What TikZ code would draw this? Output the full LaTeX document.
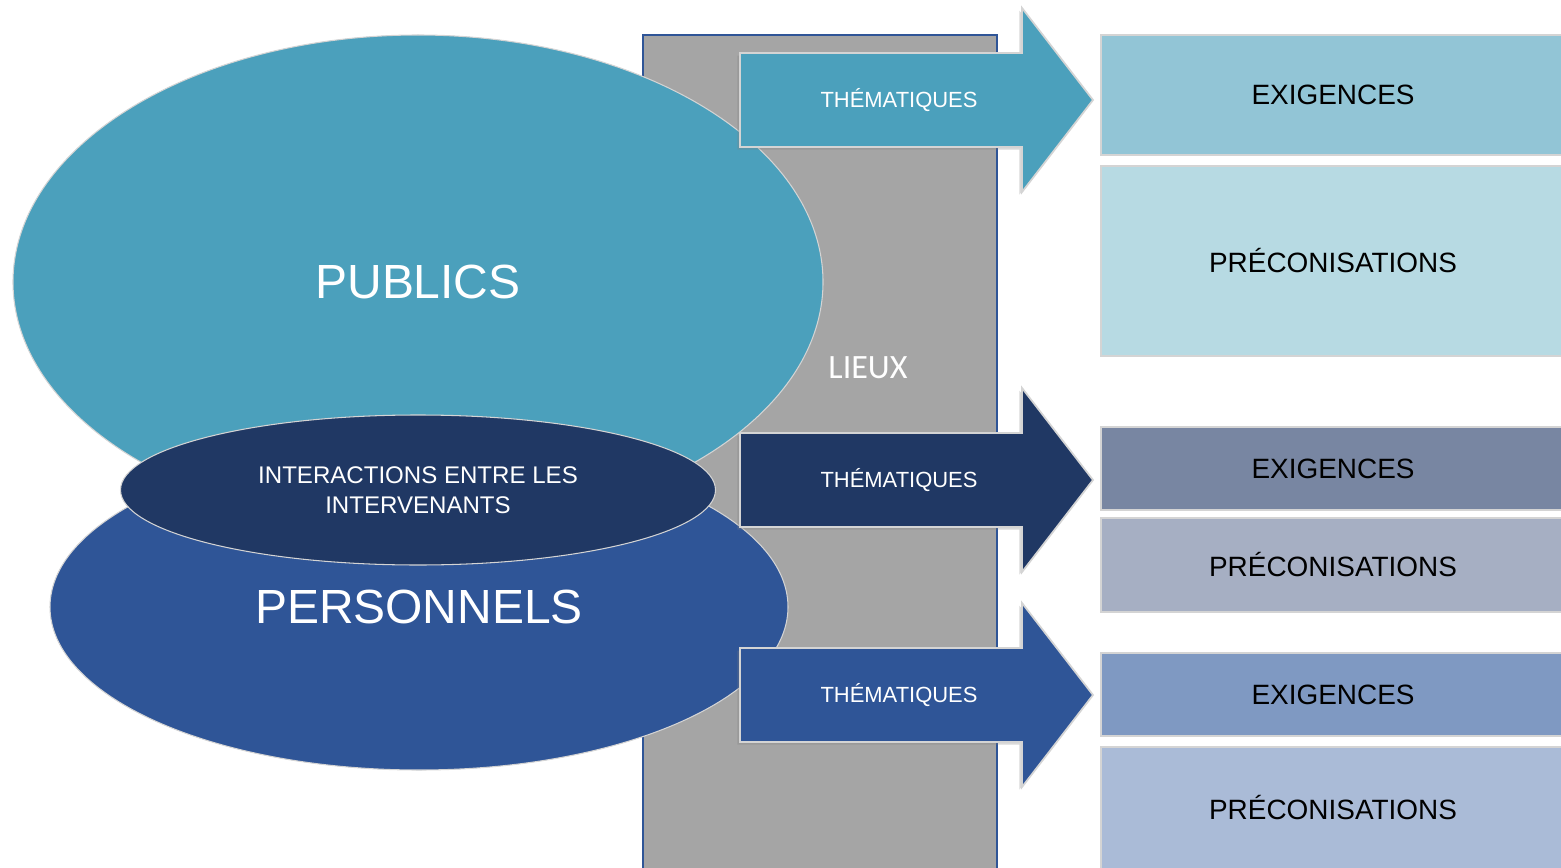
\documentclass[tikz,border=0pt]{standalone}
\usepackage{fontspec}
\setmainfont{Liberation Sans}
\newfontfamily\lieuxfont{Carlito}
\usetikzlibrary{shapes.geometric,shadows}

\definecolor{publicsbleu}{HTML}{4BA0BC}
\definecolor{interbleu}{HTML}{203864}
\definecolor{persbleu}{HTML}{2F5597}
\definecolor{lieuxgris}{HTML}{A5A5A5}
\definecolor{bordgris}{HTML}{D4D4D4}
\definecolor{exigA}{HTML}{92C5D6}
\definecolor{precA}{HTML}{B7DAE3}
\definecolor{exigB}{HTML}{7886A2}
\definecolor{precB}{HTML}{A6AFC3}
\definecolor{exigC}{HTML}{7F99C2}
\definecolor{precC}{HTML}{AABBD7}

\def\px{0.02cm}

\tikzset{
  bulle/.style={ellipse, draw=bordgris, line width=0.6pt, inner sep=0pt, text=white},
  fleche/.style={draw=bordgris, line width=1pt,
    drop shadow={shadow xshift=-1.5pt, shadow yshift=-1.5pt, opacity=0.3}},
  theme/.style={text=white, font=\fontsize{12.5}{15}\selectfont},
  case/.style={rectangle, draw=bordgris, line width=1.1pt, inner sep=0pt,
    minimum width=464*\px, font=\fontsize{15.9}{19}\selectfont},
}

\begin{document}
\begin{tikzpicture}[x=\px, y=-\px]

\clip (0,0) rectangle (1561,868);

\def\xbl{740}; % arrow body left
\def\xbr{1022}; % arrow body right
\def\xtip{1093}; % arrow tip
\def\hb{47}; % half body
\def\hh{92}; % half head

\def\ya{100}; % arrow 1
\def\yb{480}; % arrow 2
\def\yc{695}; % arrow 3

% lieux
\filldraw[fill=lieuxgris, draw=persbleu, line width=0.04cm] (643,35) rectangle (997,880);
\node[text=white, font=\lieuxfont\fontsize{19.4}{23}\selectfont] (lieux) at (868,368) {LIEUX};

% ellipses
\node[bulle, fill=publicsbleu, minimum width=810*\px, minimum height=494*\px,
  font=\fontsize{27.3}{32}\selectfont] (publics) at (418,282) {PUBLICS};
\node[bulle, fill=persbleu, minimum width=738*\px, minimum height=326*\px,
  font=\fontsize{27.3}{32}\selectfont] (personnels) at (419,607) {PERSONNELS};
\node[bulle, fill=interbleu, minimum width=595*\px, minimum height=150*\px, align=center,
  font=\fontsize{13.7}{17.1}\selectfont] (interactions) at (418,490)
  {INTERACTIONS ENTRE LES\\INTERVENANTS};

% arrows
\filldraw[fleche, fill=publicsbleu] (\xbl,\ya-\hb) -- (\xbr,\ya-\hb) -- (\xbr,\ya-\hh)
  -- (\xtip,\ya) -- (\xbr,\ya+\hh) -- (\xbr,\ya+\hb) -- (\xbl,\ya+\hb) -- cycle;
\node[theme] (themA) at (899,\ya) {THÉMATIQUES};

\filldraw[fleche, fill=interbleu] (\xbl,\yb-\hb) -- (\xbr,\yb-\hb) -- (\xbr,\yb-\hh)
  -- (\xtip,\yb) -- (\xbr,\yb+\hh) -- (\xbr,\yb+\hb) -- (\xbl,\yb+\hb) -- cycle;
\node[theme] (themB) at (899,\yb) {THÉMATIQUES};

\filldraw[fleche, fill=persbleu] (\xbl,\yc-\hb) -- (\xbr,\yc-\hb) -- (\xbr,\yc-\hh)
  -- (\xtip,\yc) -- (\xbr,\yc+\hh) -- (\xbr,\yc+\hb) -- (\xbl,\yc+\hb) -- cycle;
\node[theme] (themC) at (899,\yc) {THÉMATIQUES};

% boxes
\node[case, fill=exigA, minimum height=120*\px] (exigA) at (1333,95) {EXIGENCES};
\node[case, fill=precA, minimum height=190*\px] (precA) at (1333,261) {PRÉCONISATIONS};
\node[case, fill=exigB, minimum height=83*\px] (exigB) at (1333,468.5) {EXIGENCES};
\node[case, fill=precB, minimum height=94*\px] (precB) at (1333,565) {PRÉCONISATIONS};
\node[case, fill=exigC, minimum height=83*\px] (exigC) at (1333,694.5) {EXIGENCES};
\node[case, fill=precC, minimum height=122*\px] (precC) at (1333,808) {PRÉCONISATIONS};

\end{tikzpicture}
\end{document}
